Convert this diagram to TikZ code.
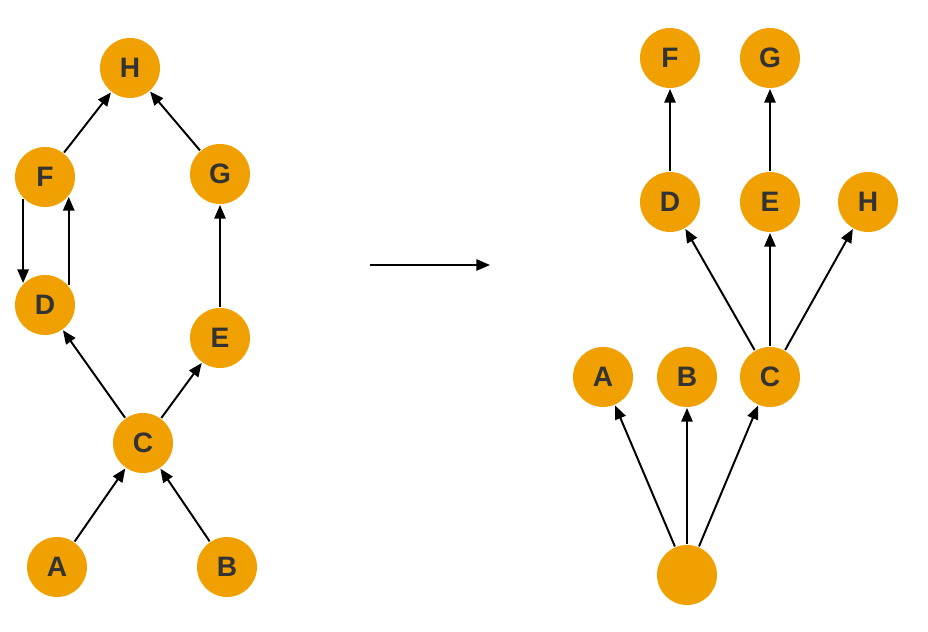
\documentclass[tikz,border=0pt]{standalone}
\usepackage{fontspec}
\setmainfont{Liberation Sans}
\usepackage{tikz}
\usetikzlibrary{arrows.meta}
\definecolor{vorange}{RGB}{240,160,0}
\definecolor{vtext}{RGB}{51,51,51}
\tikzset{
>={Triangle[length=0.34cm,width=0.28cm]}, % filled arrow heads
every picture/.style={line width=1.4pt}, % thicker edges
every edge/.append style={->}, % makes the edges directed
vertex/.style={circle, fill=vorange, minimum size=1.5cm, inner sep=0pt,
  text=vtext, font=\fontsize{20}{24}\selectfont\bfseries}, % the orange nodes
}
\begin{document}
\begin{tikzpicture}
		\useasboundingbox (0,0) rectangle (23.2,15.8);
		% left graph
		\node[vertex] (lH) at (3.25,14.1) {H};
		\node[vertex] (lF) at (1.125,11.375) {F};
		\node[vertex] (lG) at (5.5,11.45) {G};
		\node[vertex] (lD) at (1.125,8.175) {D};
		\node[vertex] (lE) at (5.5,7.35) {E};
		\node[vertex] (lC) at (3.575,4.725) {C};
		\node[vertex] (lA) at (1.425,1.625) {A};
		\node[vertex] (lB) at (5.675,1.625) {B};
		\draw (lF) edge (lH)
			(lG) edge (lH)
			(lE) edge (lG)
			(lF.-135) edge (lD.135)
			(lD.40) edge (lF.-40)
			(lC) edge (lD)
			(lC) edge (lE)
			(lA) edge (lC)
			(lB) edge (lC);

		% middle arrow
		\coordinate (m1) at (9.25,9.175);
		\coordinate (m2) at (12.25,9.175);
		\draw (m1) edge (m2);

		% right graph
		\node[vertex] (rF) at (16.75,14.35) {F};
		\node[vertex] (rG) at (19.25,14.35) {G};
		\node[vertex] (rD) at (16.75,10.75) {D};
		\node[vertex] (rE) at (19.25,10.75) {E};
		\node[vertex] (rH) at (21.7,10.75) {H};
		\node[vertex] (rA) at (15.075,6.375) {A};
		\node[vertex] (rB) at (17.175,6.375) {B};
		\node[vertex] (rC) at (19.25,6.375) {C};
		\node[vertex] (rR) at (17.175,1.425) {};
		\draw (rD) edge (rF)
			(rE) edge (rG)
			(rC) edge (rD)
			(rC) edge (rE)
			(rC) edge (rH)
			(rR) edge (rA)
			(rR) edge (rB)
			(rR) edge (rC);
	\end{tikzpicture}
\end{document}
